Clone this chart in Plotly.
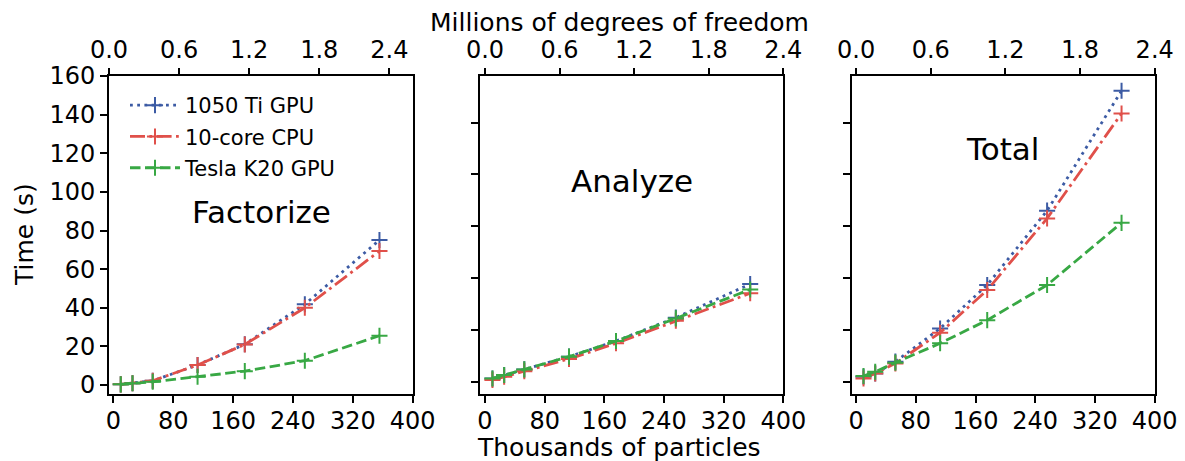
import plotly.graph_objects as go

# ---- data ----
particles_k = [10, 25.7, 52.7, 112.6, 175.7, 255.9, 355.6]   # thousands of particles

series_names = ["1050 Ti GPU", "10-core CPU", "Tesla K20 GPU"]

factorize_1050 = [0.35, 0.9, 2.2, 10.4, 21.1, 41.8, 75.1]
factorize_cpu = [0.35, 0.9, 2.2, 10.4, 21.0, 40.0, 69.4]
factorize_k20 = [0.35, 0.9, 1.7, 4.3, 7.2, 12.6, 25.5]

analyze_1050 = [3.4, 5.2, 8.1, 14.7, 22.8, 34.9, 52.3]
analyze_cpu = [2.6, 4.3, 7.2, 13.5, 21.6, 33.3, 47.5]
analyze_k20 = [3.4, 5.2, 8.1, 14.7, 22.8, 34.5, 49.5]

total_1050 = [4.3, 6.0, 12.1, 29.3, 51.8, 90.3, 152.4]
total_cpu = [3.4, 6.0, 11.2, 27.1, 49.2, 86.3, 140.6]
total_k20 = [4.7, 6.9, 11.6, 21.6, 33.6, 51.8, 84.0]

panel_titles = ["Factorize", "Analyze", "Total"]
bottom_ticks = [0, 80, 160, 240, 320, 400]
top_ticks = [0.0, 0.6, 1.2, 1.8, 2.4]
y_ticks = [0, 20, 40, 60, 80, 100, 120, 140, 160]

# ---- styles ----
colors = ["#3c5ba4", "#e0504a", "#38a844"]
dashes = ["2.8px,4.4px", "15px,4.4px,2.8px,4.4px", "10.5px,4.5px"]
W, H = 1185, 461
OFF = 8          # page body margin: figure is drawn 8px right/down in the window
FONT = "DejaVu Sans"

panels = [
    [factorize_1050, factorize_cpu, factorize_k20],
    [analyze_1050, analyze_cpu, analyze_k20],
    [total_1050, total_cpu, total_k20],
]


def px(v):
    return (v - OFF) / W


def py(v):
    return 1 - (v - OFF) / H


# pixel geometry (window pixels) of the three boxes
box_x = [(109, 412.7), (480, 783.3), (851.7, 1154.7)]
box_top, box_bot = 75.7, 394.3
bottom_ranges = [[-5.7, 400], [-6.7, 400], [-5.8, 400]]
top_ranges = [[0, 2.6], [-0.04, 2.4], [-0.035, 2.4]]
y_range = [-4.8, 160.2]

fig = go.Figure()

for p, data in enumerate(panels):
    xa = "x" if p == 0 else f"x{2 * p + 1}"
    ya = "y" if p == 0 else f"y{p + 1}"
    for s in range(3):
        fig.add_trace(go.Scatter(
            x=particles_k, y=data[s], xaxis=xa, yaxis=ya,
            name=series_names[s], legendgroup=series_names[s],
            showlegend=(p == 0),
            mode="lines+markers",
            line=dict(color=colors[s], width=2.8, dash=dashes[s]),
            marker=dict(symbol="cross-thin", size=11.5,
                        line=dict(color=colors[s], width=2)),
        ))
    # empty trace so the top (degrees of freedom) axis is drawn
    fig.add_trace(go.Scatter(x=[], y=[], xaxis=f"x{2 * p + 2}", yaxis=ya,
                             showlegend=False, hoverinfo="skip"))

layout = dict(
    width=W, height=H,
    margin=dict(l=0, r=0, t=0, b=0, autoexpand=False),
    paper_bgcolor="white", plot_bgcolor="white",
    font=dict(family=FONT, size=24, color="black"),
    showlegend=True,
    legend=dict(x=px(125), y=py(85), xanchor="left", yanchor="top",
                bgcolor="rgba(0,0,0,0)", font=dict(size=21),
                tracegroupgap=1, itemwidth=50),
)

ydom = [py(box_bot), py(box_top)]
common_axis = dict(showline=True, linecolor="black", linewidth=2,
                   ticks="outside", ticklen=7, tickwidth=1.5, tickcolor="black",
                   showgrid=False, zeroline=False, automargin=False,
                   tickfont=dict(family=FONT, size=24, color="black"))

for p in range(3):
    dom = [px(box_x[p][0]), px(box_x[p][1])]
    bname = "xaxis" if p == 0 else f"xaxis{2 * p + 1}"
    tname = f"xaxis{2 * p + 2}"
    yname = "yaxis" if p == 0 else f"yaxis{p + 1}"
    yref = "y" if p == 0 else f"y{p + 1}"
    bref = "x" if p == 0 else f"x{2 * p + 1}"
    layout[bname] = dict(common_axis, domain=dom, range=bottom_ranges[p],
                         tickvals=bottom_ticks, anchor=yref, mirror=True,
                         ticklabelstandoff=-3)
    layout[tname] = dict(common_axis, range=top_ranges[p], tickvals=top_ticks,
                         ticktext=[f"{v:.1f}" for v in top_ticks],
                         overlaying=bref, side="top",
                         anchor=yref, showline=False)
    if p == 0:
        layout[yname] = dict(common_axis, domain=ydom, range=y_range,
                             tickvals=y_ticks, anchor=bref, mirror=True)
    else:
        layout[yname] = dict(common_axis, domain=ydom, range=y_range,
                             tick0=1.7, dtick=26.85, showticklabels=False,
                             anchor=bref, mirror=True)

fig.update_layout(**layout)

# panel titles
title_pos = [(261.3, 212), (632, 181), (1002.8, 149)]
for p, (tx, ty) in enumerate(title_pos):
    fig.add_annotation(text=panel_titles[p], x=px(tx), y=py(ty),
                       xref="paper", yref="paper", showarrow=False,
                       xanchor="center", yanchor="middle",
                       font=dict(family=FONT, size=31, color="black"))

# figure-level axis titles
fig.add_annotation(text="Millions of degrees of freedom", x=px(619), y=py(22.5),
                   xref="paper", yref="paper", showarrow=False,
                   xanchor="center", yanchor="middle",
                   font=dict(family=FONT, size=25, color="black"))
fig.add_annotation(text="Thousands of particles", x=px(619), y=py(447),
                   xref="paper", yref="paper", showarrow=False,
                   xanchor="center", yanchor="middle",
                   font=dict(family=FONT, size=25, color="black"))
fig.add_annotation(text="Time (s)", x=px(24), y=py(235), textangle=-90,
                   xref="paper", yref="paper", showarrow=False,
                   xanchor="center", yanchor="middle",
                   font=dict(family=FONT, size=25, color="black"))

fig.write_html("out.html")
